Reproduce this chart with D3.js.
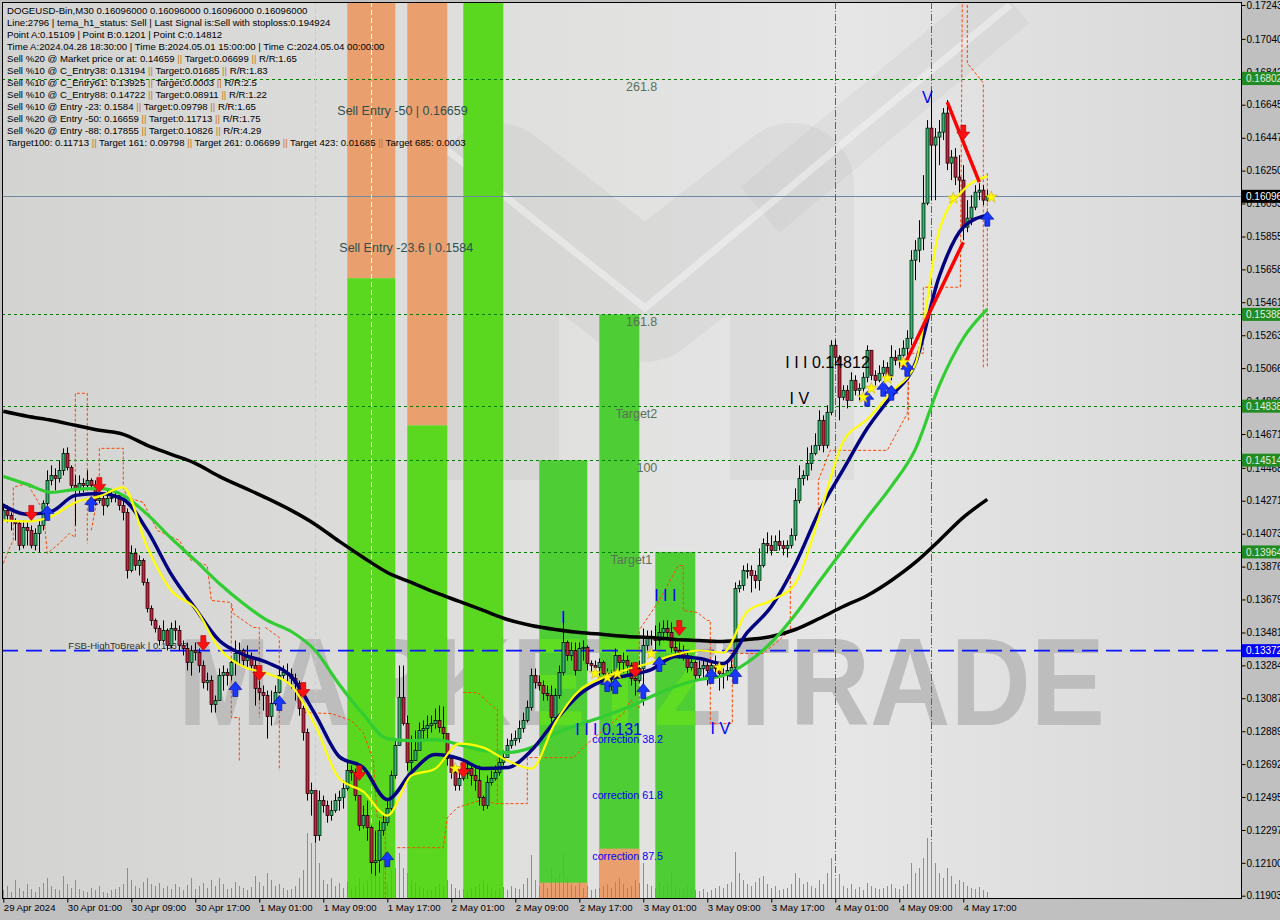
<!DOCTYPE html>
<html><head><meta charset="utf-8">
<script src="https://cdn.jsdelivr.net/npm/d3@7/dist/d3.min.js"></script>
<style>
html,body{margin:0;padding:0;background:#c0c0c0;}
svg{display:block;font-family:"Liberation Sans",Arial,sans-serif;}
</style></head><body>
<svg id="chart" width="1280" height="920"></svg>
<script>
// ---------------- DATA ----------------
const firstBar = "2024-04-29T17:00:00Z";   // M30 bars
const firstOpen = 0.14153;
const closes = [
0.14213,0.14183,0.14153,0.14135,0.14003,0.14111,0.14093,0.14003,0.14075,0.14123,
0.14255,0.14393,0.14423,0.14405,0.14453,0.14555,0.14471,0.14363,0.14345,0.14375,
0.14363,0.14393,0.14363,0.14273,0.14285,0.14243,0.14285,0.14291,0.14303,0.14243,
0.14201,0.13853,0.13955,0.13883,0.13913,0.13781,0.13625,0.13553,0.13505,0.13433,
0.13493,0.13403,0.13505,0.13493,0.13403,0.13385,0.13301,0.13373,0.13361,0.13283,
0.13181,0.13193,0.13049,0.13073,0.13223,0.13241,0.13223,0.13301,0.13355,0.13373,
0.13313,0.13331,0.13283,0.13145,0.13121,0.13103,0.12977,0.13055,0.13121,0.13223,
0.13241,0.13229,0.13205,0.13175,0.13025,0.12881,0.12515,0.12533,0.12263,0.12473,
0.12443,0.12383,0.12413,0.12473,0.12491,0.12545,0.12653,0.12641,0.12503,0.12323,
0.12383,0.12311,0.12101,0.12113,0.12293,0.12341,0.12425,0.12623,0.12803,0.13091,
0.12935,0.12701,0.12713,0.12773,0.12893,0.12905,0.12923,0.12935,0.12953,0.12911,
0.12875,0.12725,0.12641,0.12563,0.12605,0.12635,0.12665,0.12623,0.12593,0.12491,
0.12443,0.12581,0.12605,0.12641,0.12701,0.12731,0.12803,0.12833,0.12845,0.12905,
0.12953,0.13031,0.13223,0.13181,0.13163,0.13115,0.13103,0.12971,0.13103,0.13241,
0.13421,0.13343,0.13373,0.13253,0.13385,0.13391,0.13295,0.13283,0.13271,0.13301,
0.13235,0.13217,0.13211,0.13343,0.13301,0.13313,0.13283,0.13205,0.13193,0.13265,
0.13403,0.13451,0.13445,0.13433,0.13481,0.13505,0.13481,0.13391,0.13373,0.13361,
0.13343,0.13271,0.13301,0.13223,0.13265,0.13283,0.13253,0.13283,0.13265,0.13235,
0.13223,0.13253,0.13271,0.13745,0.13763,0.13853,0.13853,0.13823,0.13793,0.13883,
0.14015,0.14003,0.13973,0.14027,0.14003,0.13985,0.14003,0.14063,0.14273,0.14405,
0.14423,0.14495,0.14555,0.14603,0.14753,0.14603,0.14801,0.15203,0.15131,0.14891,
0.14933,0.14873,0.14993,0.14933,0.14945,0.15011,0.15173,0.15023,0.14993,0.15035,
0.15071,0.15023,0.15131,0.15113,0.15143,0.15185,0.15245,0.15713,0.15773,0.15845,
0.16055,0.16505,0.16403,0.16451,0.16481,0.16595,0.16295,0.16331,0.16211,0.16193,
0.15911,0.15965,0.16031,0.16121,0.16133,0.16073,0.16096];
const highs = [
0.14255,0.14243,0.14201,0.14165,0.14153,0.14153,0.14141,0.14123,0.14105,0.14153,
0.14273,0.14453,0.14483,0.14465,0.14513,0.14585,0.14591,0.14483,0.14423,0.14423,
0.14405,0.14453,0.14405,0.14393,0.14333,0.14303,0.14333,0.14333,0.14345,0.14321,
0.14273,0.14225,0.14003,0.13985,0.13943,0.13925,0.13805,0.13643,0.13565,0.13523,
0.13553,0.13505,0.13541,0.13553,0.13523,0.13433,0.13421,0.13403,0.13421,0.13385,
0.13313,0.13241,0.13223,0.13103,0.13265,0.13283,0.13265,0.13325,0.13433,0.13421,
0.13385,0.13403,0.13361,0.13325,0.13193,0.13163,0.13133,0.13133,0.13163,0.13265,
0.13283,0.13295,0.13265,0.13235,0.13193,0.13043,0.12905,0.12581,0.12521,0.12533,
0.12503,0.12473,0.12473,0.12515,0.12533,0.12593,0.12701,0.12683,0.12665,0.12503,
0.12443,0.12473,0.12323,0.12293,0.12353,0.12383,0.12473,0.12653,0.12845,0.13283,
0.13283,0.12983,0.12863,0.12893,0.12941,0.12953,0.12983,0.12983,0.13025,0.13043,
0.13037,0.12785,0.12743,0.12683,0.12653,0.12683,0.12713,0.12683,0.12683,0.12683,
0.12503,0.12623,0.12653,0.12683,0.12743,0.12773,0.12845,0.12875,0.12893,0.12953,
0.13001,0.13073,0.13265,0.13265,0.13223,0.13193,0.13163,0.13163,0.13145,0.13283,
0.13601,0.13433,0.13421,0.13421,0.13421,0.13433,0.13403,0.13313,0.13313,0.13325,
0.13313,0.13265,0.13253,0.13385,0.13343,0.13361,0.13343,0.13301,0.13283,0.13313,
0.13505,0.13493,0.13493,0.13523,0.13541,0.13553,0.13553,0.13541,0.13433,0.13421,
0.13403,0.13373,0.13343,0.13313,0.13313,0.13325,0.13313,0.13313,0.13343,0.13283,
0.13265,0.13301,0.13313,0.13781,0.13793,0.13883,0.13895,0.13883,0.13853,0.13985,
0.14045,0.14081,0.14063,0.14063,0.14093,0.14033,0.14033,0.14105,0.14345,0.14483,
0.14453,0.14591,0.14603,0.14675,0.14813,0.14783,0.14843,0.15233,0.15233,0.15143,
0.14963,0.14963,0.15041,0.15023,0.14975,0.15041,0.15203,0.15173,0.15053,0.15083,
0.15113,0.15101,0.15203,0.15173,0.15185,0.15233,0.15293,0.15773,0.15833,0.15953,
0.16223,0.16553,0.16733,0.16505,0.16553,0.16625,0.16673,0.16373,0.16385,0.16343,
0.16283,0.16073,0.16103,0.16163,0.16175,0.16163,0.16133];
const lows = [
0.14153,0.14141,0.14093,0.14033,0.13973,0.13985,0.14003,0.13985,0.13973,0.13961,
0.14093,0.14243,0.14363,0.14333,0.14381,0.14423,0.14453,0.14333,0.14123,0.14303,
0.14321,0.14345,0.14333,0.14243,0.14255,0.14183,0.14231,0.14261,0.14261,0.14213,
0.14153,0.13805,0.13841,0.13853,0.13823,0.13763,0.13601,0.13523,0.13481,0.13403,
0.13421,0.13373,0.13385,0.13433,0.13373,0.13343,0.13253,0.13223,0.13313,0.13241,
0.13145,0.13133,0.13001,0.13001,0.13073,0.13133,0.13163,0.13193,0.13223,0.13283,
0.13283,0.13265,0.13253,0.13043,0.13073,0.13013,0.12845,0.12923,0.13043,0.13115,
0.13193,0.13181,0.13145,0.13073,0.12983,0.12833,0.12473,0.12383,0.12221,0.12233,
0.12401,0.12341,0.12353,0.12401,0.12413,0.12425,0.12533,0.12593,0.12473,0.12293,
0.12305,0.12233,0.12035,0.12023,0.12041,0.12263,0.12323,0.12413,0.12605,0.12803,
0.12923,0.12653,0.12653,0.12713,0.12803,0.12833,0.12845,0.12881,0.12905,0.12881,
0.12833,0.12683,0.12605,0.12533,0.12533,0.12593,0.12605,0.12563,0.12533,0.12443,
0.12413,0.12425,0.12563,0.12593,0.12623,0.12683,0.12731,0.12785,0.12803,0.12821,
0.12881,0.12941,0.13013,0.13145,0.13133,0.13073,0.13073,0.12941,0.12953,0.13085,
0.13223,0.13313,0.13313,0.13223,0.13265,0.13313,0.13253,0.13241,0.13223,0.13223,
0.13193,0.13145,0.13133,0.13133,0.13241,0.13241,0.13223,0.13163,0.13103,0.13181,
0.13043,0.13373,0.13403,0.13373,0.13403,0.13433,0.13433,0.13361,0.13343,0.13325,
0.13313,0.13241,0.13253,0.13193,0.13193,0.13205,0.13163,0.13223,0.13205,0.13133,
0.13145,0.13193,0.13223,0.13241,0.13721,0.13733,0.13805,0.13721,0.13745,0.13733,
0.13871,0.13955,0.13943,0.13985,0.13973,0.13943,0.13931,0.13985,0.14033,0.14255,
0.14363,0.14393,0.14453,0.14543,0.14573,0.14561,0.14585,0.14783,0.15083,0.14753,
0.14873,0.14825,0.14873,0.14903,0.14873,0.14921,0.14981,0.14993,0.14963,0.14981,
0.15011,0.14993,0.14993,0.15083,0.15065,0.15101,0.15143,0.15203,0.15593,0.15701,
0.15773,0.16043,0.16073,0.16073,0.16283,0.16433,0.16253,0.16193,0.16163,0.16103,
0.15833,0.15881,0.15923,0.16013,0.16073,0.16043,0.16061];
const volumes = [
8,12,6,18,10,7,14,9,6,11, 15,20,12,9,8,22,14,10,18,9, 7,6,10,8,12,6,5,8,9,11,
14,30,18,12,10,16,20,14,12,15, 10,12,9,14,11,8,13,20,9,12, 15,10,18,12,20,14,9,10,16,12,
10,8,11,22,16,12,25,18,12,14, 10,8,9,12,20,28,65,55,65,35, 18,14,20,12,15,10,16,9,12,20,
14,18,30,40,22,40,15,28,30,45, 30,25,18,16,12,10,9,8,12,14, 12,18,14,10,8,9,7,10,12,14,
18,14,10,8,9,11,8,12,10,9, 14,20,43,18,12,15,10,30,20,25, 45,20,14,12,16,10,12,8,9,10,
12,14,10,16,20,14,10,12,18,15, 35,14,12,10,15,12,14,25,12,10, 9,12,10,8,7,9,6,8,10,12,
10,14,16,46,25,18,14,12,16,20, 22,14,10,12,8,9,10,14,25,20, 14,16,12,10,18,14,25,40,20,24,
12,10,14,9,11,8,15,12,10,9, 10,12,14,10,9,12,14,35,25,30, 40,60,55,35,25,20,30,22,14,18,
16,12,10,9,11,8,6];

// moving averages sampled every 6 bars
const maBars = [0,6,12,18,24,30,36,42,48,54,60,66,72,78,84,90,96,102,108,114,120,126,132,138,144,150,156,162,168,174,180,186,192,198,204,210,216,222,228,234,240,246];
const maBlack = [0.14807,0.14777,0.14753,0.14723,0.14693,0.14669,0.14603,0.14549,0.14495,0.14417,0.14351,0.14285,0.14213,0.14129,0.14027,0.13931,0.13841,0.13781,0.13721,0.13667,0.13613,0.13559,0.13523,0.13499,0.13481,0.13469,0.13457,0.13451,0.13439,0.13433,0.13427,0.13439,0.13457,0.13499,0.13565,0.13637,0.13703,0.13793,0.13901,0.14033,0.14171,0.14279];
const maGreen = [0.14417,0.14369,0.14321,0.14339,0.14345,0.14303,0.14189,0.14045,0.13913,0.13775,0.13655,0.13553,0.13487,0.13373,0.13169,0.12989,0.12845,0.12833,0.12839,0.12809,0.12773,0.12761,0.12791,0.12875,0.12929,0.12977,0.13031,0.13097,0.13157,0.13199,0.13223,0.13301,0.13421,0.13589,0.13787,0.13979,0.14171,0.14357,0.14579,0.14963,0.15245,0.15419];
const maNavy = [0.14243,0.14189,0.14207,0.14303,0.14315,0.14279,0.14093,0.13829,0.13625,0.13433,0.13349,0.13301,0.13217,0.12989,0.12737,0.12671,0.12479,0.12641,0.12749,0.12725,0.12665,0.12671,0.12773,0.12953,0.13109,0.13193,0.13223,0.13259,0.13337,0.13325,0.13295,0.13481,0.13637,0.13889,0.14207,0.14459,0.14705,0.14897,0.15095,0.15617,0.15911,0.15983];
const maYellow = [0.14153,0.14147,0.14177,0.14261,0.14297,0.14351,0.13991,0.13733,0.13625,0.13385,0.13277,0.13235,0.13163,0.12923,0.12605,0.12527,0.12383,0.12623,0.12665,0.12815,0.12791,0.12713,0.12665,0.12941,0.13133,0.13211,0.13259,0.13301,0.13349,0.13373,0.13361,0.13607,0.13673,0.13775,0.14177,0.14627,0.14759,0.14921,0.15089,0.15893,0.16133,0.16217];

// dashed orange trailing/envelope segments [bar, price]
const orangeSegs = [
 [[0,0.13895],[1.5,0.13985],[2.5,0.14033],[2.5,0.14351],[6,0.14375],[7,0.14333],[10,0.14213],[11,0.13955],[14,0.14015],[16.5,0.14075],[18,0.14051],[18,0.14915],[21,0.14915],[21,0.14015]],
 [[22,0.14093],[24,0.14351],[24,0.14585],[30,0.14585],[30,0.14351],[31,0.14291],[35,0.14261],[36,0.14213],[38.5,0.14093],[44,0.14033],[47,0.13913],[51,0.13883],[52,0.13673],[57,0.13661],[57.5,0.13595],[62.5,0.13511],[64,0.13511],[64,0.12971]],
 [[57,0.13643],[57,0.12971],[59,0.12971],[59,0.12713]],
 [[65.5,0.13511],[69,0.13451],[69,0.12653]],
 [[75,0.13001],[82,0.12995],[87,0.12953],[90,0.12881],[92.5,0.12713],[93.5,0.12371],[95.5,0.12371],[95.5,0.11885]],
 [[98.5,0.12191],[110,0.12191],[111,0.12371],[113.5,0.12431],[119,0.12473],[123.5,0.12455],[131,0.12455],[131,0.12731],[142.5,0.12731],[146,0.12815],[155,0.12995],[156.75,0.13073],[159,0.13031],[159,0.13505]],
 [[115,0.13121],[118.5,0.13121],[123,0.13025],[123.5,0.13025],[123.5,0.12455]],
 [[159.25,0.13505],[164,0.13673],[168.75,0.13883],[170,0.13883],[170,0.13613],[173.5,0.13601],[176,0.13553],[176.75,0.13553],[176.75,0.12935],[182.25,0.12935],[182.25,0.13373]],
 [[181.75,0.13355],[190,0.13355],[196.75,0.13493],[196.75,0.13835],[198.5,0.13895],[203.75,0.14213],[203.75,0.14393],[206.75,0.14573],[221,0.14573],[226,0.14795],[226.25,0.14993]],
 [[226.25,0.14753],[226.25,0.15155],[230,0.15155],[230,0.15551],[239.25,0.15551],[239.75,0.17273]],
 [[241,0.17273],[241,0.16895],[245,0.16775],[245,0.15071]],
 [[246,0.16235],[246,0.15071]]
];
// red ABC lines [bar1, price1, bar2, price2]
const redLines = [[225,0.15071,240,0.15821],[236,0.16661,244,0.16181]];
// vertical bands [startBar, endBar, lowPrice, highPrice, colour]
const bands = [
 [86,98,0.15605,0.1730,"o"],[86,98,0.1185,0.15605,"g"],
 [101,111,0.14723,0.1730,"o"],[101,111,0.1185,0.14723,"g"],
 [115,125,0.1185,0.1730,"g"],
 [134,146,0.1185,0.14514,"d"],[134,146,0.1185,0.11981,"o"],
 [149,159,0.1185,0.15388,"d"],[149,159,0.1185,0.12185,"o"],
 [163,173,0.1185,0.13964,"d"]
];
const greenLevels = [0.16802,0.15388,0.14838,0.14514,0.13964];
const fsbLevel = 0.13372;
const lastPrice = 0.16096;
const vLines = [[78,"cyan"],[92,"white"],[208,"magenta"],[232,"magenta"]];
const downArrows = [[7,0.14195],[24,0.14363],[50,0.13415],[64,0.13235],[75,0.13133],[89,0.12635],[115,0.12653],[158,0.13253],[169,0.13505],[240,0.16475]];
const upArrows = [[11,0.14201],[22,0.14255],[58,0.13145],[69,0.13061],[96,0.12125],[151,0.13175],[153,0.13163],[160,0.13133],[164,0.13295],[177,0.13223],[183,0.13223],[216,0.14885],[220,0.14945],[222,0.14921],[226,0.15065],[246,0.15965]];
const stars = [[113,0.12665],[148,0.13235],[151,0.13211],[153.5,0.13235],[162,0.13355],[179,0.13271],[215,0.14891],[217,0.14945],[221,0.15005],[225,0.15101],[237.5,0.16085],[247,0.16091]];
const fibLabels = [[163.5,0.16802,"261.8"],[163.5,0.15388,"161.8"],[163.5,0.14838,"Target2"],[163.5,0.14514,"100"],[162.25,0.13964,"Target1"]];
const entryLabels = [[83.5,0.16659,"Sell Entry -50 | 0.16659"],[84,0.1584,"Sell Entry -23.6 | 0.1584"]];
const fsbLabel = [16.25,0.13372,"FSB-HighToBreak | 0.13372"];
// wave labels [bar, price, text, colour, size, anchor]
const waveLabels = [
 [140,0.13571,"I","#0000ff",16,"middle"],
 [165.5,0.13703,"I I I","#0000ff",16,"middle"],
 [143,0.12899,"I I I 0.131","#0000ff",16,"start"],
 [179.25,0.12905,"I V","#0000ff",16,"middle"],
 [231,0.16691,"V","#0000ff",16,"middle"],
 [147.25,0.12839,"correction 38.2","#0000ff",10.7,"start"],
 [147.25,0.12503,"correction 61.8","#0000ff",10.7,"start"],
 [147.25,0.12143,"correction 87.5","#0000ff",10.7,"start"],
 [195.5,0.15101,"I I I 0.14812","#000000",16,"start"],
 [199,0.14885,"I V","#000000",16,"middle"]
];
const priceTicks = ["0.17243","0.17040","0.16842","0.16645","0.16447","0.16250","0.16053","0.15855","0.15658","0.15461","0.15263","0.15066","0.14869","0.14671","0.14468","0.14271","0.14073","0.13876","0.13679","0.13481","0.13284","0.13087","0.12889","0.12692","0.12495","0.12297","0.12100","0.11903"];
const timeTicks = ["2024-04-29T17:00:00Z","2024-04-30T01:00:00Z","2024-04-30T09:00:00Z","2024-04-30T17:00:00Z","2024-05-01T01:00:00Z","2024-05-01T09:00:00Z","2024-05-01T17:00:00Z","2024-05-02T01:00:00Z","2024-05-02T09:00:00Z","2024-05-02T17:00:00Z","2024-05-03T01:00:00Z","2024-05-03T09:00:00Z","2024-05-03T17:00:00Z","2024-05-04T01:00:00Z","2024-05-04T09:00:00Z","2024-05-04T17:00:00Z"];
const timeLabels = ["29 Apr 2024","30 Apr 01:00","30 Apr 09:00","30 Apr 17:00","1 May 01:00","1 May 09:00","1 May 17:00","2 May 01:00","2 May 09:00","2 May 17:00","3 May 01:00","3 May 09:00","3 May 17:00","4 May 01:00","4 May 09:00","4 May 17:00"];
const headerLines = [
 "DOGEUSD-Bin,M30  0.16096000 0.16096000 0.16096000 0.16096000",
 "Line:2796 | tema_h1_status: Sell | Last Signal is:Sell with stoploss:0.194924",
 "Point A:0.15109 | Point B:0.1201 | Point C:0.14812",
 "Time A:2024.04.28 18:30:00 | Time B:2024.05.01 15:00:00 | Time C:2024.05.04 00:00:00",
 "Sell %20 @ Market price or at: 0.14659 || Target:0.06699 || R/R:1.65",
 "Sell %10 @ C_Entry38: 0.13194 || Target:0.01685 || R/R:1.83",
 "Sell %10 @ C_Entry61: 0.13925 || Target:0.0003 || R/R:2.5",
 "Sell %10 @ C_Entry88: 0.14722 || Target:0.08911 || R/R:1.22",
 "Sell %10 @ Entry -23: 0.1584 || Target:0.09798 || R/R:1.65",
 "Sell %20 @ Entry -50: 0.16659 || Target:0.11713 || R/R:1.75",
 "Sell %20 @ Entry -88: 0.17855 || Target:0.10826 || R/R:4.29",
 "Target100: 0.11713 || Target 161: 0.09798 || Target 261: 0.06699 || Target 423: 0.01685 || Target 685: 0.0003"
];

// ---------------- LAYOUT ----------------
const W = 1280, H = 920, L = 2, T = 2, R = 1241, B = 898;
const T0 = new Date(firstBar).getTime();
const BAR = 30 * 60 * 1000;
const barTime = i => new Date(T0 + i * BAR);
const x = d3.scaleTime().domain([barTime(0), barTime(240)]).range([3.3, 963.3]);
const y = d3.scaleLinear().domain([0.11903, 0.17243]).range([895.7, 5]);
const X = i => x(barTime(i));
const vol = d3.scaleLinear().domain([0, 100]).range([B, B - 100]);

const svg = d3.select("#chart");
const defs = svg.append("defs");
const gr = defs.append("linearGradient").attr("id", "bgGrad").attr("x1", 0).attr("x2", 1).attr("y1", 0).attr("y2", 0);
[[0, "#d3d3d1"], [0.4, "#dfdfde"], [0.68, "#e6e6e6"], [1, "#d8d8d8"]].forEach(([o, c]) => gr.append("stop").attr("offset", o).attr("stop-color", c));
defs.append("clipPath").attr("id", "plotClip").append("rect").attr("x", L).attr("y", T).attr("width", R - L).attr("height", B - T);
const dClip = defs.append("clipPath").attr("id", "dClip");
bands.filter(b => b[4] === "d").forEach(b => dClip.append("rect").attr("x", X(b[0])).attr("width", X(b[1]) - X(b[0])).attr("y", y(b[3])).attr("height", y(b[2]) - y(b[3])));

svg.append("rect").attr("width", W).attr("height", H).attr("fill", "#c0c0c0");
svg.append("rect").attr("x", L).attr("y", T).attr("width", R - L).attr("height", B - T).attr("fill", "url(#bgGrad)");
const plot = svg.append("g").attr("clip-path", "url(#plotClip)");

// background logo (decorative)
plot.append("path").attr("d", "M497,480 L497,185 L645,300 L792,185 L792,480").attr("fill", "none")
  .attr("stroke", "rgba(0,0,0,0.04)").attr("stroke-width", 124).attr("stroke-linejoin", "round");
plot.append("path").attr("d", "M760,210 L1010,0").attr("stroke", "rgba(0,0,0,0.03)").attr("stroke-width", 60);
plot.append("path").attr("d", "M447,150 L645,308 L835,150 L1010,5").attr("fill", "none")
  .attr("stroke", "rgba(255,255,255,0.38)").attr("stroke-width", 7);

// watermark
const wmAttrs = sel => sel.attr("x", 178).attr("y", 725).attr("textLength", 927).attr("lengthAdjust", "spacingAndGlyphs")
  .attr("font-size", 125).attr("font-weight", "bold").text("MARKETZTRADE");
plot.append("text").call(wmAttrs).attr("fill", "#bdbdbd");

// bands
const bandColor = { o: "#e9a06e", g: "#5ad81f", d: "#4fcd34" };
plot.append("g").selectAll("rect").data(bands).join("rect")
  .attr("x", d => X(d[0])).attr("width", d => X(d[1]) - X(d[0]))
  .attr("y", d => y(d[3])).attr("height", d => y(d[2]) - y(d[3])).attr("fill", d => bandColor[d[4]]);
plot.append("text").call(wmAttrs).attr("fill", "#5fdd22").attr("clip-path", "url(#dClip)");

// horizontal levels
const yc = v => Math.round(y(v)) + 0.5;
plot.append("g").selectAll("line").data(greenLevels).join("line")
  .attr("x1", L).attr("x2", R).attr("y1", d => yc(d)).attr("y2", d => yc(d))
  .attr("stroke", "#008000").attr("stroke-dasharray", "3,3");
plot.append("line").attr("x1", L).attr("x2", R).attr("y1", y(fsbLevel)).attr("y2", y(fsbLevel))
  .attr("stroke", "#0a14ff").attr("stroke-width", 1.6).attr("stroke-dasharray", "16,8");
plot.append("line").attr("x1", L).attr("x2", R).attr("y1", yc(lastPrice)).attr("y2", yc(lastPrice))
  .attr("stroke", "#7088a0");

// vertical lines
const vStyle = { cyan: ["#a8d8e8", "4,3"], white: ["#ffffff", "5,3"], magenta: ["#c0288a", "7,2,1,2"] };
plot.append("g").selectAll("line").data(vLines).join("line")
  .attr("x1", d => Math.round(X(d[0])) + 0.5).attr("x2", d => Math.round(X(d[0])) + 0.5)
  .attr("y1", T).attr("y2", B).attr("stroke", d => vStyle[d[1]][0]).attr("stroke-dasharray", d => vStyle[d[1]][1]);

// volume
plot.append("g").selectAll("line").data(volumes).join("line")
  .attr("x1", (d, i) => Math.round(X(i)) + 0.5).attr("x2", (d, i) => Math.round(X(i)) + 0.5)
  .attr("y1", B).attr("y2", d => vol(d)).attr("stroke", "#32cd32");

// fsb label & other texts under candles
plot.append("text").attr("x", X(fsbLabel[0])).attr("y", y(fsbLabel[1]) - 2).attr("font-size", 9.6)
  .attr("fill", "#303030").text(fsbLabel[2]);
plot.append("g").selectAll("text").data(entryLabels).join("text")
  .attr("x", d => X(d[0])).attr("y", d => y(d[1]) + 13).attr("font-size", 12.5).attr("fill", "#2f4f4f").text(d => d[2]);
plot.append("g").selectAll("text").data(fibLabels).join("text")
  .attr("x", d => X(d[0])).attr("y", d => y(d[1]) + 12).attr("text-anchor", "end")
  .attr("font-size", 12.5).attr("fill", "#5a705a").text(d => d[2]);

// orange dashed segments
const segLine = d3.line().x(d => X(d[0])).y(d => y(d[1]));
plot.append("g").selectAll("path").data(orangeSegs).join("path")
  .attr("d", segLine).attr("fill", "none").attr("stroke", "#ff4500").attr("stroke-dasharray", "3,2").attr("stroke-width", 1);

// candles
const candles = plot.append("g");
closes.forEach((c, i) => {
  const o = i === 0 ? firstOpen : closes[i - 1];
  const cx = Math.round(X(i)) + 0.5;
  candles.append("line").attr("x1", cx).attr("x2", cx).attr("y1", y(highs[i])).attr("y2", y(lows[i])).attr("stroke", "#000");
  const top = y(Math.max(o, c)), bot = y(Math.min(o, c));
  candles.append("rect").attr("x", cx - 1.5).attr("width", 3).attr("y", top).attr("height", Math.max(1, bot - top))
    .attr("fill", c >= o ? "#2fb86a" : "#c8203c").attr("stroke", "#000").attr("stroke-width", 0.7);
});

// moving averages
const maLine = d3.line().curve(d3.curveMonotoneX).x((d, k) => X(maBars[k])).y(d => y(d));
[[maBlack, "#000000", 3.5], [maGreen, "#32cd32", 3.2], [maNavy, "#000080", 3.5], [maYellow, "#ffff00", 2.2]].forEach(([s, col, w]) => {
  plot.append("path").attr("d", maLine(s)).attr("fill", "none").attr("stroke", col).attr("stroke-width", w).attr("stroke-linejoin", "round");
});
plot.append("g").selectAll("line").data(redLines).join("line")
  .attr("x1", d => X(d[0])).attr("y1", d => y(d[1])).attr("x2", d => X(d[2])).attr("y2", d => y(d[3]))
  .attr("stroke", "#ff0000").attr("stroke-width", 3.5);

// arrows & stars
const downPath = "M-2.5,-8 H2.5 V-1 H6.5 L0,7 L-6.5,-1 H-2.5 Z";
const upPath = "M-2.5,8 H2.5 V1 H6.5 L0,-7 L-6.5,1 H-2.5 Z";
plot.append("g").selectAll("path").data(downArrows).join("path")
  .attr("d", downPath).attr("transform", d => `translate(${X(d[0])},${y(d[1])})`)
  .attr("fill", "#ff1010").attr("stroke", "#b00000").attr("stroke-width", 0.6);
plot.append("g").selectAll("path").data(upArrows).join("path")
  .attr("d", upPath).attr("transform", d => `translate(${X(d[0])},${y(d[1])})`)
  .attr("fill", "#1838ff").attr("stroke", "#000090").attr("stroke-width", 0.6);
const starSym = d3.symbol().type(d3.symbolStar).size(45);
plot.append("g").selectAll("path").data(stars).join("path")
  .attr("d", starSym).attr("transform", d => `translate(${X(d[0])},${y(d[1])})`)
  .attr("fill", "#ffff00").attr("stroke", "#c8a000").attr("stroke-width", 0.5);

// wave labels
plot.append("g").selectAll("text").data(waveLabels).join("text")
  .attr("x", d => X(d[0])).attr("y", d => y(d[1])).attr("dy", "0.36em")
  .attr("text-anchor", d => d[5]).attr("font-size", d => d[4]).attr("fill", d => d[3]).text(d => d[2]);

// header
const hdr = svg.append("g").attr("font-size", 9.6);
headerLines.forEach((ln, k) => {
  const t = hdr.append("text").attr("x", 7).attr("y", 14.2 + k * 11.95).attr("fill", "#000");
  const parts = ln.split("||");
  parts.forEach((p, j) => {
    t.append("tspan").text(p);
    if (j < parts.length - 1) t.append("tspan").attr("fill", "#c87820").text("||");
  });
});

// frame
svg.append("rect").attr("x", L + 0.5).attr("y", T + 0.5).attr("width", R - L).attr("height", B - T)
  .attr("fill", "none").attr("stroke", "#000");

// axes
const yAxis = d3.axisRight(y).tickValues(priceTicks.map(Number)).tickFormat((d, k) => priceTicks[k]).tickSize(4).tickPadding(1);
const ya = svg.append("g").attr("transform", `translate(${R + 0.5},0)`).call(yAxis);
ya.select(".domain").remove();
ya.selectAll("text").attr("font-size", 10).attr("font-family", "Liberation Sans, Arial, sans-serif").attr("fill", "#000");
ya.selectAll("line").attr("stroke", "#000");

const xAxis = d3.axisBottom(x).tickValues(timeTicks.map(s => new Date(s))).tickFormat((d, k) => timeLabels[k]).tickSize(4).tickPadding(2);
const xa = svg.append("g").attr("transform", `translate(0,${B + 0.5})`).call(xAxis);
xa.select(".domain").remove();
xa.selectAll("text").attr("font-size", 9.6).attr("font-family", "Liberation Sans, Arial, sans-serif")
  .attr("text-anchor", "start").attr("x", 0).attr("fill", "#000");
xa.selectAll("line").attr("stroke", "#000");

// price tags
const tags = greenLevels.map(p => [p, "#228b22", "#e0f0e0"]).concat([[lastPrice, "#000000", "#ffffff"], [fsbLevel, "#0000ff", "#ffffff"]]);
const tg = svg.append("g");
tags.forEach(([p, bg, fg]) => {
  tg.append("rect").attr("x", R + 1).attr("y", y(p) - 6.5).attr("width", W - R).attr("height", 13).attr("fill", bg);
  tg.append("text").attr("x", R + 5).attr("y", y(p) + 3.6).attr("font-size", 10).attr("fill", fg).text(p.toFixed(5));
});
</script>
</body></html>
